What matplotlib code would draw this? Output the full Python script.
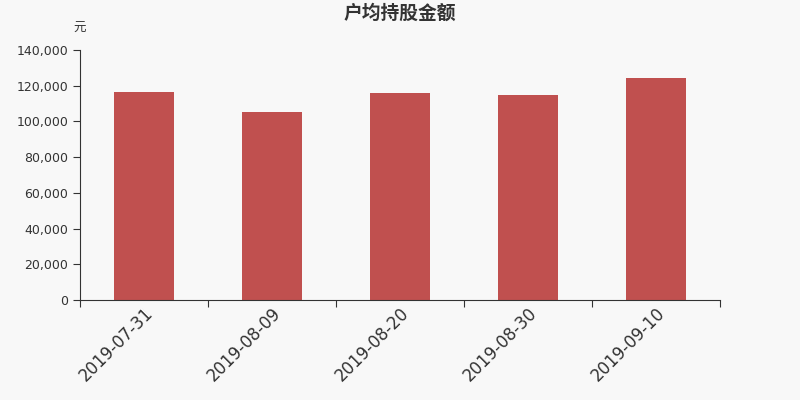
import matplotlib
matplotlib.use("Agg")
import matplotlib.pyplot as plt
from matplotlib.ticker import FuncFormatter, FixedLocator

plt.rcParams['font.family'] = ['DejaVu Sans', 'Noto Sans CJK SC']

dates = ["2019-07-31", "2019-08-09", "2019-08-20", "2019-08-30", "2019-09-10"]
values = [116400, 105300, 116200, 114800, 124300]

bg = "#f8f8f8"
fig = plt.figure(figsize=(8, 4), dpi=100, facecolor=bg)
ax = fig.add_axes([0.1, 0.25, 0.8, 0.625], facecolor=bg)

x = range(len(dates))
ax.bar(x, values, width=0.47, color="#c0504f")

ax.set_xlim(-0.5, len(dates) - 0.5)
ax.set_ylim(0, 140000)
ax.set_yticks(range(0, 140001, 20000))
ax.yaxis.set_major_formatter(FuncFormatter(lambda v, p: f"{int(v):,}"))

# ticks on category borders, labels at centres
ax.xaxis.set_major_locator(FixedLocator([i - 0.5 for i in range(len(dates) + 1)]))
ax.xaxis.set_major_formatter(FuncFormatter(lambda v, p: ""))
ax.xaxis.set_minor_locator(FixedLocator(list(x)))
ax.set_xticklabels(dates, minor=True, rotation=45, ha="right", va="top",
                   rotation_mode="anchor", fontsize=12, color="#333333")
ax.tick_params(axis="x", which="minor", length=0, pad=3)
ax.tick_params(axis="x", which="major", length=5, color="#333333")
ax.tick_params(axis="y", length=5, labelsize=9, labelcolor="#333333", color="#333333")

for s in ["top", "right"]:
    ax.spines[s].set_visible(False)
for s in ["left", "bottom"]:
    ax.spines[s].set_color("#333333")

fig.text(0.5, 0.967, "户均持股金额", ha="center", va="center",
         fontsize=13.5, fontweight="bold", color="#333333")
fig.text(0.099, 0.928, "元", ha="center", va="center", fontsize=9, color="#333333")

fig.savefig("out.png", dpi=100, facecolor=bg)
